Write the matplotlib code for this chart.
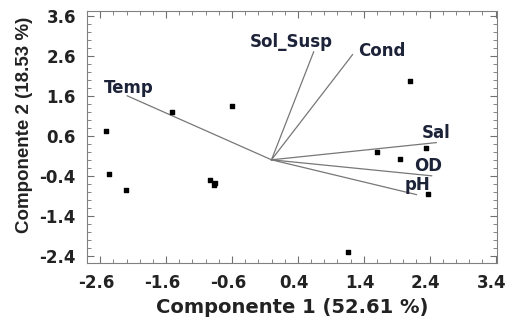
import matplotlib
matplotlib.use("Agg")
from matplotlib import pyplot as plt
from matplotlib.ticker import MultipleLocator
from matplotlib.transforms import ScaledTranslation

plt.rcParams["axes.unicode_minus"] = False

# scores (Componente 1, Componente 2)
score_x = [-2.51, -1.51, -0.60, -2.46, -2.21, -0.93, -0.86, -0.88, 2.10, 1.60, 2.34, 1.95, 2.37, 1.16]
score_y = [0.73, 1.20, 1.35, -0.35, -0.75, -0.50, -0.58, -0.64, 1.97, 0.20, 0.30, 0.03, -0.85, -2.30]

# loadings (vector end points)
var_names = ["Temp", "Sol_Susp", "Cond", "Sal", "OD", "pH"]
load_x = [-2.19, 0.64, 1.23, 2.50, 2.43, 2.20]
load_y = [1.60, 2.70, 2.63, 0.43, -0.40, -0.87]
# label anchor (left edge, vertical centre)
lab_x = [-2.55, -0.33, 1.31, 2.28, 2.17, 2.02]
lab_y = [1.80, 2.95, 2.72, 0.68, -0.15, -0.63]

fig = plt.figure(figsize=(5.07, 3.19), dpi=100)
ax = fig.add_axes([0.1716, 0.1755, 0.8084, 0.79])

for i in range(len(var_names)):
    ax.plot([0, load_x[i]], [0, load_y[i]], color="#777777", lw=0.9)
    ax.text(lab_x[i], lab_y[i], var_names[i], ha="left", va="center",
            fontsize=12, fontweight="bold", color="#1c2238", family="DejaVu Sans")

ax.scatter(score_x, score_y, marker="s", s=12, color="black", zorder=3)

ax.set_xlim(-2.8, 3.42)
ax.set_ylim(-2.58, 3.72)
ax.set_xticks([-2.6, -1.6, -0.6, 0.4, 1.4, 2.4, 3.4])
ax.set_yticks([-2.4, -1.4, -0.4, 0.6, 1.6, 2.6, 3.6])
ax.xaxis.set_minor_locator(MultipleLocator(0.2))
ax.yaxis.set_minor_locator(MultipleLocator(0.2))
ax.tick_params(which="both", direction="in", top=True, right=True, color="#707070")
ax.tick_params(which="major", length=5, labelsize=12, pad=8)
ax.tick_params(which="minor", length=3)
shift = ScaledTranslation(-4 / 100, 0, fig.dpi_scale_trans)
for lab in ax.get_xticklabels():
    lab.set_transform(lab.get_transform() + shift)
for lab in ax.get_xticklabels() + ax.get_yticklabels():
    lab.set_fontweight("bold")
    lab.set_color("#222222")
for s in ax.spines.values():
    s.set_color("#808080")

ax.set_xlabel("Componente 1 (52.61 %)", fontsize=14, fontweight="bold", color="#222222", labelpad=4)
ax.set_ylabel("Componente 2 (18.53 %)", fontsize=13.5, fontweight="bold", color="#222222",
              family="Liberation Sans")
ax.yaxis.set_label_coords(-0.132, 0.548)

fig.savefig("out.png", dpi=100)
